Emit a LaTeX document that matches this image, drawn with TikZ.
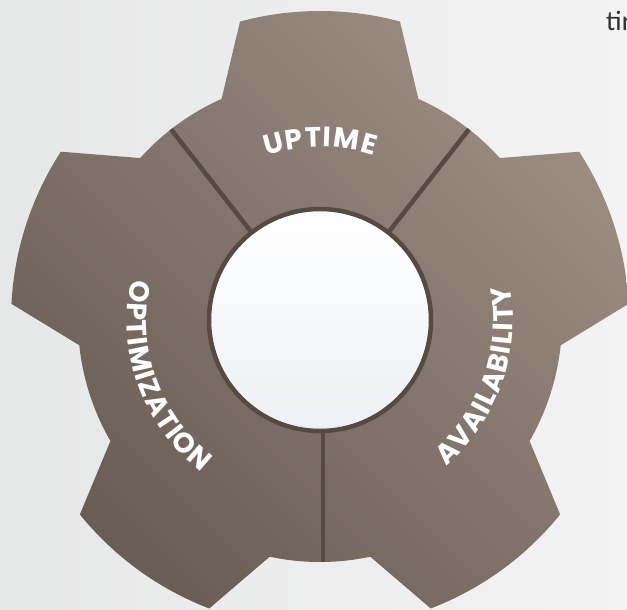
\documentclass[tikz,border=0pt]{standalone}
\usepackage{fontspec}
\setmainfont{Poppins}
\newfontfamily\lblfont{Poppins}
\newfontfamily\cornerfont{Carlito}
\usetikzlibrary{decorations.text}
\definecolor{bgL}{HTML}{E6E7E7}
\definecolor{bgR}{HTML}{F3F3F3}
\definecolor{gearL}{HTML}{9B8D82}
\definecolor{gearD}{HTML}{6A5D54}
\definecolor{rim}{HTML}{574A42}
\definecolor{holeB}{HTML}{ECF0F4}
\newcommand\labelsz{\lblfont\bfseries\fontsize{28}{28}\selectfont}
\tikzset{
  gearbody/.style={top color=gearL, bottom color=gearD, shading angle=-45},
  divider/.style={draw=rim, line width=4.5pt},
  lbl/.style={decorate, decoration={text effects along path, text={#1}, text align=center,
      text effects/.cd, text along path,
      characters={text=white, font=\labelsz, inner sep=0pt},
      character widths={inner xsep=0.6pt, inner ysep=0pt, font=\labelsz}}}
}
\begin{document}
\begin{tikzpicture}[x=1pt,y=1pt]
\useasboundingbox (-320,-290) rectangle (307,320);
\shade[left color=bgL, right color=bgR] (-320,-290) rectangle (307,320);
% gear outline
\shade[gearbody] (114:242pt)
  \foreach \k in {0,...,4}{
    -- ({90-72*\k+15}:309pt)
    arc[start angle={90-72*\k+15}, end angle={90-72*\k-15}, radius=309pt]
    -- ({90-72*\k-24}:242pt)
    arc[start angle={90-72*\k-24}, end angle={90-72*\k-48}, radius=242pt]
  } -- cycle;
% dividers
\coordinate (d1a) at (52:112pt);  \coordinate (d1b) at (52:242pt);
\coordinate (d2a) at (128:112pt); \coordinate (d2b) at (128:242pt);
\coordinate (d3a) at (3,-112);    \coordinate (d3b) at (3,-242);
\draw[divider] (d1a) -- (d1b);
\draw[divider] (d2a) -- (d2b);
\draw[divider] (d3a) -- (d3b);
% hole
\node[circle, minimum size=222pt, inner sep=0pt, draw=rim, line width=4.5pt,
      top color=white, bottom color=holeB] (hole) at (0,0) {};
% labels
\path[lbl=UPTIME] (130:173pt) arc[start angle=130, end angle=50, radius=173pt];
\path[lbl=OPTIMIZATION] (150:193pt) arc[start angle=150, end angle=250, radius=193pt];
\path[lbl=AVAILABILITY] (-70:193pt) arc[start angle=-70, end angle=31, radius=193pt];
% corner text
\node[anchor=base west, inner sep=0pt, text=black!80, font=\cornerfont\fontsize{28}{28}\selectfont] (tir) at (286,289) {tir};
\end{tikzpicture}
\end{document}
